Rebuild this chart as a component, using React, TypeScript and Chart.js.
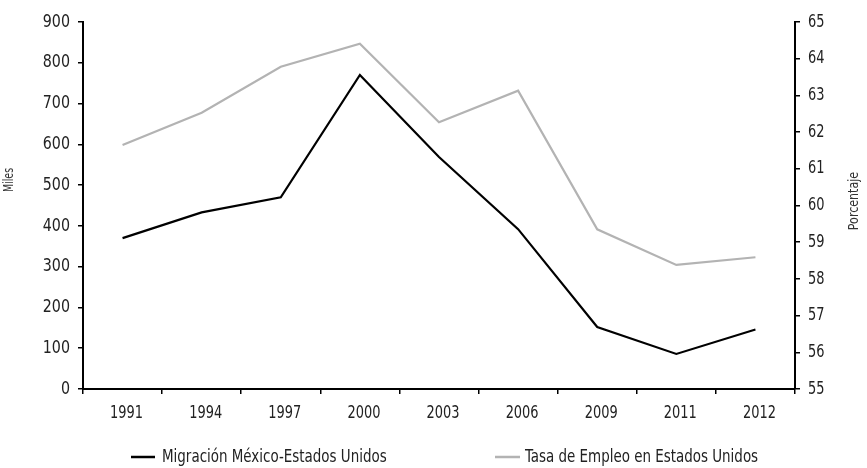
import React, { useEffect, useRef } from "react";
import { Chart, registerables } from "chart.js";

Chart.register(...registerables);

const years = ["1991", "1994", "1997", "2000", "2003", "2006", "2009", "2011", "2012"];
const migracion = [370, 433, 470, 770, 569, 392, 152, 86, 146];
const tasaEmpleo = [61.65, 62.53, 63.78, 64.41, 62.27, 63.13, 59.35, 58.38, 58.59];
const seriesNames = ["Migración México-Estados Unidos", "Tasa de Empleo en Estados Unidos"];
const seriesColors = ["#000000", "#b3b3b3"];
const leftTitle = "Miles";
const rightTitle = "Porcentaje";

const FONT = "'DejaVu Sans Condensed', 'Liberation Sans Narrow', 'DejaVu Sans', sans-serif";
const TEXT = "#222";

function squeezedText(ctx: any, text: string, x: number, y: number, sx: number, align: string, rot = 0) {
  ctx.save();
  ctx.translate(x, y);
  if (rot) ctx.rotate(rot);
  ctx.scale(sx, 1);
  ctx.textAlign = align;
  ctx.fillText(text, 0, 0);
  ctx.restore();
}

const overlayPlugin = {
  id: "overlay",
  afterDraw(chart: any) {
    const ctx = chart.ctx;
    const ca = chart.chartArea;
    ctx.save();
    ctx.fillStyle = TEXT;
    ctx.textBaseline = "middle";
    ctx.font = `18px ${FONT}`;
    // tick labels
    const sx = chart.scales.x;
    sx.ticks.forEach((t: any, i: number) => {
      squeezedText(ctx, String(sx.getLabelForValue(t.value)), sx.getPixelForTick(i) + 4, ca.bottom + 24, 0.8, "center");
    });
    const sy = chart.scales.y;
    sy.ticks.forEach((t: any, i: number) => {
      squeezedText(ctx, String(t.label), ca.left - 13, sy.getPixelForTick(i), 0.88, "right");
    });
    const sy1 = chart.scales.y1;
    sy1.ticks.forEach((t: any, i: number) => {
      squeezedText(ctx, String(t.label), ca.right + 13, sy1.getPixelForTick(i), 0.8, "left");
    });
    // axis titles
    ctx.fillStyle = "#333";
    ctx.font = `14px ${FONT}`;
    squeezedText(ctx, leftTitle, 9, 180, 0.75, "center", -Math.PI / 2);
    squeezedText(ctx, rightTitle, 854, 201, 0.88, "center", -Math.PI / 2);
    // legend
    const items = [
      { x0: ca.left + 48, x1: ca.left + 72, tx: ca.left + 79 },
      { x0: ca.left + 412, x1: ca.left + 437, tx: ca.left + 442 },
    ];
    const y = 457;
    ctx.font = `18px ${FONT}`;
    items.forEach((it, i) => {
      ctx.strokeStyle = seriesColors[i];
      ctx.lineWidth = 2.5;
      ctx.beginPath();
      ctx.moveTo(it.x0, y);
      ctx.lineTo(it.x1, y);
      ctx.stroke();
      ctx.fillStyle = TEXT;
      squeezedText(ctx, seriesNames[i], it.tx, y, 0.83, "left");
    });
    ctx.restore();
  },
};

export default function App() {
  const ref = useRef<HTMLCanvasElement>(null);
  useEffect(() => {
    if (!ref.current) return;
    const gridOpts = { drawOnChartArea: false, drawTicks: true, tickLength: 5, color: "#000", lineWidth: 1.5 };
    const chart = new Chart(ref.current, {
      type: "line",
      data: {
        labels: years,
        datasets: [
          {
            label: seriesNames[0],
            data: migracion,
            borderColor: seriesColors[0],
            backgroundColor: seriesColors[0],
            borderWidth: 2.2,
            pointRadius: 0,
            tension: 0,
            yAxisID: "y",
          },
          {
            label: seriesNames[1],
            data: tasaEmpleo,
            borderColor: seriesColors[1],
            backgroundColor: seriesColors[1],
            borderWidth: 2.2,
            pointRadius: 0,
            tension: 0,
            yAxisID: "y1",
          },
        ],
      },
      options: {
        animation: false,
        responsive: true,
        maintainAspectRatio: false,
        layout: { padding: { top: 22, bottom: 0, left: 0, right: 0 } },
        plugins: { legend: { display: false }, tooltip: { enabled: false } },
        scales: {
          x: {
            offset: true,
            grid: { ...gridOpts, offset: true },
            border: { display: true, color: "#000", width: 2 },
            ticks: { display: false },
            afterFit: (s: any) => { s.height = 79; },
          },
          y: {
            position: "left",
            min: 0,
            max: 900,
            ticks: { stepSize: 100, display: false },
            grid: gridOpts,
            border: { display: true, color: "#000", width: 2 },
            afterFit: (s: any) => { s.width = 83; },
          },
          y1: {
            position: "right",
            min: 55,
            max: 65,
            ticks: { stepSize: 1, display: false },
            grid: gridOpts,
            border: { display: true, color: "#000", width: 2 },
            afterFit: (s: any) => { s.width = 72; },
          },
        },
      },
      plugins: [overlayPlugin],
    } as any);
    return () => chart.destroy();
  }, []);
  return (
    <div style={{ position: "fixed", left: 0, top: 0, width: 867, height: 468, background: "#fff" }}>
      <canvas ref={ref} />
    </div>
  );
}
